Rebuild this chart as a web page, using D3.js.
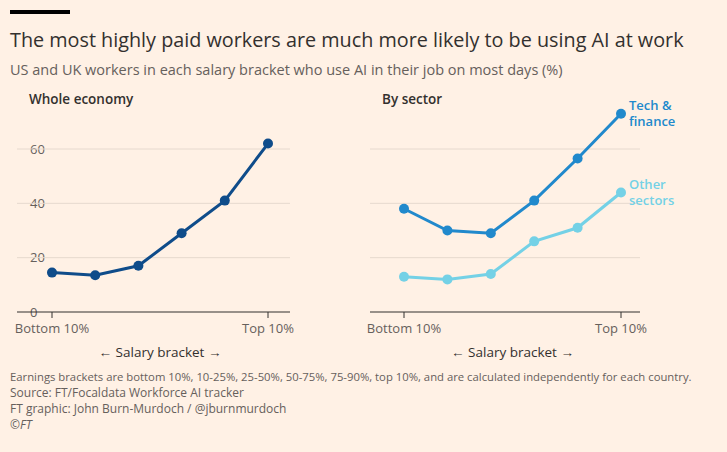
<!DOCTYPE html><html><head><meta charset="utf-8">
<script src="https://cdn.jsdelivr.net/npm/d3@7"></script>
<style>body{margin:0;background:#fff1e5;font-family:"Open Sans",sans-serif}</style></head><body>
<svg id="c" width="727" height="452"></svg>
<script>
const brackets=["Bottom 10%","10-25%","25-50%","50-75%","75-90%","Top 10%"];
const whole=[14.5,13.5,17,29,41,62];
const tech=[38,30,29,41,56.5,73];
const other=[13,12,14,26,31,44];
const yTicks=[0,20,40,60];
const svg=d3.select("#c");
const W=727;
svg.append("rect").attr("width",W).attr("height",452).attr("fill","#fff1e5");
svg.append("rect").attr("x",10).attr("y",10).attr("width",60).attr("height",4).attr("fill","#000");
svg.append("text").attr("x",10).attr("y",47).attr("font-size",19.8).attr("fill","#33302e").text("The most highly paid workers are much more likely to be using AI at work");
svg.append("text").attr("x",10).attr("y",75).attr("font-size",14.5).attr("fill","#66605c").text("US and UK workers in each salary bracket who use AI in their job on most days (%)");
const y=d3.scaleLinear().domain([0,60]).range([312,149]);
function panel(x0,x1,g0,g1,title,series){
  const x=d3.scalePoint().domain(brackets).range([x0,x1]);
  svg.append("text").attr("x",g0+12).attr("y",104).attr("font-size",13.5).attr("font-weight",600).attr("fill","#33302e").text(title);
  yTicks.forEach(t=>{svg.append("line").attr("x1",g0).attr("x2",g1).attr("y1",y(t)).attr("y2",y(t)).attr("stroke",t==0?"#33302e":"#e6d9ce").attr("stroke-width",t==0?1.2:1);});
  [brackets[0],brackets[5]].forEach(b=>{
    svg.append("line").attr("x1",x(b)).attr("x2",x(b)).attr("y1",312).attr("y2",318).attr("stroke","#33302e");
    svg.append("text").attr("x",x(b)).attr("y",333).attr("text-anchor","middle").attr("font-size",13).attr("fill","#66605c").text(b);
  });
  svg.append("text").attr("x",(x0+x1)/2).attr("y",357).attr("text-anchor","middle").attr("font-size",13.5).attr("fill","#33302e").text("← Salary bracket →");
  series.forEach(s=>{
    const line=d3.line().x((d,i)=>x(brackets[i])).y(d=>y(d));
    svg.append("path").attr("d",line(s.v)).attr("fill","none").attr("stroke",s.c).attr("stroke-width",3);
    svg.selectAll(null).data(s.v).enter().append("circle").attr("cx",(d,i)=>x(brackets[i])).attr("cy",d=>y(d)).attr("r",5).attr("fill",s.c);
    if(s.label){s.label.forEach((l,i)=>svg.append("text").attr("x",x1+8).attr("y",s.ly+i*16).attr("font-size",13).attr("font-weight",600).attr("fill",s.c).text(l));}
  });
  return x;
}
yTicks.forEach(t=>svg.append("text").attr("x",30).attr("y",y(t)).attr("dy","0.35em").attr("font-size",13).attr("fill","#66605c").text(t));
panel(52,268,17,290,"Whole economy",[{v:whole,c:"#0f4c8a"}]);
panel(404,621,370,640,"By sector",[{v:other,c:"#74d1e6",label:["Other","sectors"],ly:189},{v:tech,c:"#2189cc",label:["Tech &","finance"],ly:110}]);
const notes=["Earnings brackets are bottom 10%, 10-25%, 25-50%, 50-75%, 75-90%, top 10%, and are calculated independently for each country.","Source: FT/Focaldata Workforce AI tracker","FT graphic: John Burn-Murdoch / @jburnmurdoch","©FT"];
notes.forEach((n,i)=>svg.append("text").attr("x",10).attr("y",381+i*16).attr("font-size",i==0?11.3:12).attr("fill","#66605c").attr("font-style",i==3?"italic":"normal").text(n));
</script></body></html>
